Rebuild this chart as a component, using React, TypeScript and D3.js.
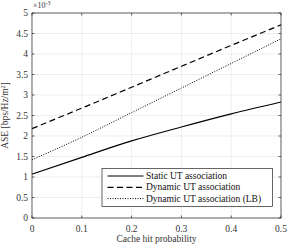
import React, { useEffect, useRef } from 'react';
import * as d3 from 'd3';

const cacheHit = [0, 0.1, 0.2, 0.3, 0.4, 0.5];
const staticUT = [1.07, 1.48, 1.88, 2.22, 2.54, 2.83];
const dynamicUT = [2.18, 2.68, 3.19, 3.7, 4.21, 4.71];
const dynamicLB = [1.42, 1.97, 2.57, 3.17, 3.77, 4.37];
const xTicks = [0, 0.1, 0.2, 0.3, 0.4, 0.5];
const yTicks = [0, 0.5, 1, 1.5, 2, 2.5, 3, 3.5, 4, 4.5, 5];
const seriesNames = ['Static UT association', 'Dynamic UT association', 'Dynamic UT association (LB)'];

const App: React.FC = () => {
  const svgRef = useRef<SVGSVGElement>(null);

  useEffect(() => {
    if (!svgRef.current) return;
    const svg = d3.select(svgRef.current);
    svg.selectAll('*').remove();

    const width = 288;
    const height = 246;
    const margin = { top: 13, right: 7, bottom: 28, left: 32 };
    const font = 'Liberation Serif, DejaVu Serif, serif';

    const x = d3.scaleLinear().domain([0, 0.5]).range([margin.left, width - margin.right]);
    const y = d3.scaleLinear().domain([0, 5]).range([height - margin.bottom, margin.top]);

    svg.append('rect')
      .attr('x', 0).attr('y', 0).attr('width', width).attr('height', height)
      .attr('fill', '#fff');

    // grid
    const grid = svg.append('g').attr('stroke', '#e3e3e3').attr('stroke-width', 0.6);
    xTicks.forEach((t) => {
      grid.append('line')
        .attr('x1', x(t)).attr('x2', x(t))
        .attr('y1', y(0)).attr('y2', y(5));
    });
    yTicks.forEach((t) => {
      grid.append('line')
        .attr('x1', x(0)).attr('x2', x(0.5))
        .attr('y1', y(t)).attr('y2', y(t));
    });

    // lines
    const styles = [
      { data: staticUT, dash: null },
      { data: dynamicUT, dash: '6,3.5' },
      { data: dynamicLB, dash: '1,1.5' },
    ];
    const line = d3.line<number>()
      .x((_, i) => x(cacheHit[i]))
      .y((d) => y(d))
      .curve(d3.curveMonotoneX);
    styles.forEach((s) => {
      svg.append('path')
        .attr('d', line(s.data) || '')
        .attr('fill', 'none')
        .attr('stroke', '#000')
        .attr('stroke-width', s.dash === '1,1.5' ? 1 : 1.2)
        .attr('stroke-dasharray', s.dash);
    });

    // axes box with inner ticks
    const axis = svg.append('g').attr('stroke', '#262626').attr('stroke-width', 0.7);
    axis.append('rect')
      .attr('x', x(0)).attr('y', y(5))
      .attr('width', x(0.5) - x(0)).attr('height', y(0) - y(5))
      .attr('fill', 'none');
    const tl = 2.5;
    xTicks.forEach((t) => {
      axis.append('line').attr('x1', x(t)).attr('x2', x(t)).attr('y1', y(0)).attr('y2', y(0) - tl);
      axis.append('line').attr('x1', x(t)).attr('x2', x(t)).attr('y1', y(5)).attr('y2', y(5) + tl);
    });
    yTicks.forEach((t) => {
      axis.append('line').attr('x1', x(0)).attr('x2', x(0) + tl).attr('y1', y(t)).attr('y2', y(t));
      axis.append('line').attr('x1', x(0.5)).attr('x2', x(0.5) - tl).attr('y1', y(t)).attr('y2', y(t));
    });

    const labels = svg.append('g').attr('font-family', font).attr('font-size', 9.5).attr('fill', '#333');
    xTicks.forEach((t) => {
      labels.append('text')
        .attr('x', x(t)).attr('y', y(0) + 14)
        .attr('text-anchor', 'middle')
        .text(String(t));
    });
    yTicks.forEach((t) => {
      labels.append('text')
        .attr('x', x(0) - 4).attr('y', y(t) + 3)
        .attr('text-anchor', 'end')
        .text(String(t));
    });

    const exp = labels.append('text').attr('x', x(0) + 1).attr('y', y(5) - 5).attr('font-size', 8);
    exp.append('tspan').text('\u00d710');
    exp.append('tspan').attr('dy', -3).attr('font-size', 6).text('-3');

    labels.append('text')
      .attr('x', (x(0) + x(0.5)) / 2).attr('y', height - 4)
      .attr('text-anchor', 'middle')
      .text('Cache hit probability');

    const yl = labels.append('text')
      .attr('transform', `translate(8,${(y(0) + y(5)) / 2}) rotate(-90)`)
      .attr('text-anchor', 'middle');
    yl.append('tspan').text('ASE [bps/Hz/m');
    yl.append('tspan').attr('dy', -3).attr('font-size', 6).text('2');
    yl.append('tspan').attr('dy', 3).text(']');

    // legend
    const lg = svg.append('g');
    lg.append('rect')
      .attr('x', 102).attr('y', 168.5).attr('width', 170.5).attr('height', 38)
      .attr('fill', '#fff').attr('stroke', '#262626').attr('stroke-width', 0.7);
    seriesNames.forEach((name, i) => {
      const ly = 176 + i * 11.3;
      lg.append('line')
        .attr('x1', 107.5).attr('x2', 143.5).attr('y1', ly).attr('y2', ly)
        .attr('stroke', '#000')
        .attr('stroke-width', i === 2 ? 1 : 1.2)
        .attr('stroke-dasharray', styles[i].dash);
      lg.append('text')
        .attr('x', 146).attr('y', ly + 3)
        .attr('font-family', font).attr('font-size', 9.5).attr('fill', '#111')
        .text(name);
    });
  }, []);

  return (
    <svg ref={svgRef} width={288} height={246} style={{ position: 'absolute', left: 0, top: 0 }} />
  );
};

export default App;
